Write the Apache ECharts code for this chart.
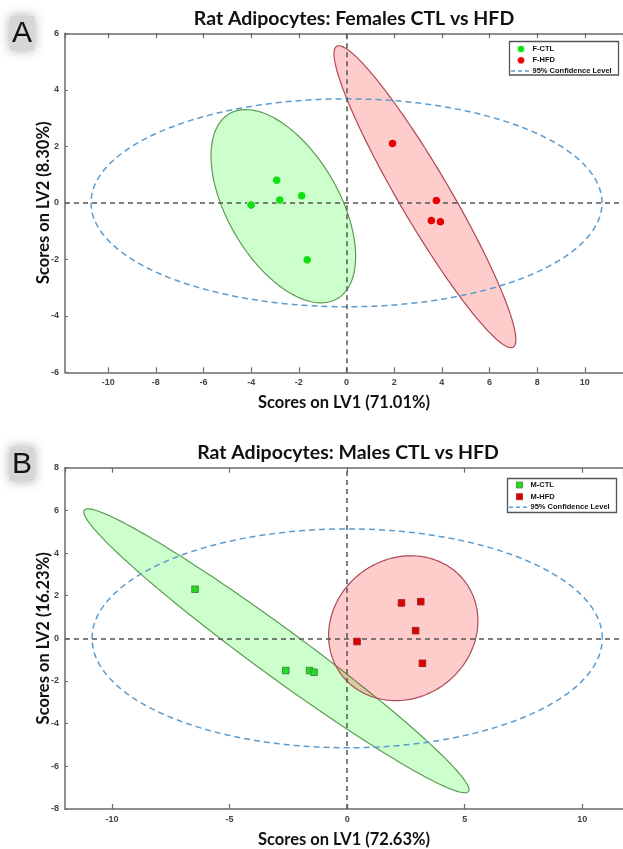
<!DOCTYPE html>
<html>
<head>
<meta charset="utf-8">
<script src="https://cdn.jsdelivr.net/npm/echarts@6/dist/echarts.min.js"></script>
<style>
  html, body { margin: 0; padding: 0; background: #fff; }
  #chart { width: 623px; height: 849px; }
</style>
</head>
<body>
<div id="chart"></div>
<script>
// ---- Panel A: female rats, scores on LV1 / LV2 ----
const femCtl = [[-4.0, -0.08], [-2.8, 0.1], [-2.93, 0.8], [-1.88, 0.25], [-1.65, -2.02]];
const femHfd = [[1.93, 2.1], [3.77, 0.08], [3.56, -0.63], [3.94, -0.67]];
// group ellipses: [centre x, centre y, var x, var y, cov xy]
const femCtlEllipse = [-2.65, -0.12, 9.2, 11.7, -5.4];
const femHfdEllipse = [3.29, 0.215, 14.55, 28.57, -19.3];
// 95% confidence ellipse: [radius x, radius y]
const femConfidence = [10.72, 3.68];
const femRangeX = [-11.81, 11.6];
const femRangeY = [-6, 6];

// ---- Panel B: male rats ----
const maleCtl = [[-6.47, 2.3], [-2.61, -1.51], [-1.6, -1.51], [-1.41, -1.59]];
const maleHfd = [[0.42, -0.15], [2.31, 1.66], [3.13, 1.72], [2.91, 0.36], [3.2, -1.17]];
const maleCtlEllipse = [-3.01, -0.585, 67.1, 44.3, -53.33];
const maleHfdEllipse = [2.385, 0.475, 10.08, 11.53, 1.1];
const maleConfidence = [10.85, 5.13];
const maleRangeX = [-12, 11.73];
const maleRangeY = [-8, 8];

const titles = ['Rat Adipocytes: Females CTL vs HFD', 'Rat Adipocytes: Males CTL vs HFD'];
const xNames = ['Scores on LV1 (71.01%)', 'Scores on LV1 (72.63%)'];
const yNames = ['Scores on LV2 (8.30%)', 'Scores on LV2 (16.23%)'];
const legendA = ['F-CTL', 'F-HFD', '95% Confidence Level'];
const legendB = ['M-CTL', 'M-HFD', '95% Confidence Level'];
const panelLetters = ['A', 'B'];

const AXIS_COLOR = '#6a6a6a';
const GREEN_FILL = 'rgba(0,255,0,0.2)';
const RED_FILL = 'rgba(255,0,0,0.2)';
const GREEN_EDGE = '#5c9c55';
const RED_EDGE = '#ad4a57';
const CONF_COLOR = '#5a9bd0';
const TITLE_FONT = 'Lato, "Open Sans", sans-serif';
const TICK_FONT = '"Liberation Sans", Arial, sans-serif';

const grids = [
  { left: 65, top: 33.3, width: 560, height: 339 },
  { left: 65, top: 467.7, width: 560, height: 341.3 }
];

// outline of an ellipse given its centre and covariance terms, in data units
function ellipsePoints(api, e) {
  const [cx, cy, sxx, syy, sxy] = e;
  const a = Math.sqrt(sxx);
  const c = sxy / a;
  const d = Math.sqrt(syy - c * c);
  const pts = [];
  const N = 180;
  for (let i = 0; i <= N; i++) {
    const t = 2 * Math.PI * i / N;
    pts.push(api.coord([cx + a * Math.cos(t), cy + c * Math.cos(t) + d * Math.sin(t)]));
  }
  return pts;
}

function groupEllipse(xi, yi, e, fill, stroke, z) {
  return {
    type: 'custom', xAxisIndex: xi, yAxisIndex: yi, z: z, silent: true,
    data: [[0, 0]],
    renderItem: (p, api) => ({
      type: 'polygon',
      shape: { points: ellipsePoints(api, e) },
      style: { fill: fill, stroke: stroke, lineWidth: 1.2 }
    })
  };
}

function confidenceEllipse(xi, yi, r) {
  const e = [0, 0, r[0] * r[0], r[1] * r[1], 0];
  return {
    type: 'custom', xAxisIndex: xi, yAxisIndex: yi, z: 3, silent: true,
    data: [[0, 0]],
    renderItem: (p, api) => ({
      type: 'polyline',
      shape: { points: ellipsePoints(api, e) },
      style: { fill: 'none', stroke: CONF_COLOR, lineWidth: 1.5, lineDash: [6, 4] }
    })
  };
}

function zeroLines(xi, yi) {
  return {
    type: 'scatter', xAxisIndex: xi, yAxisIndex: yi, data: [], z: 4, silent: true,
    markLine: {
      silent: true, symbol: 'none', label: { show: false }, animation: false,
      lineStyle: { color: '#555', type: [5, 4], width: 1.5 },
      data: [{ xAxis: 0 }, { yAxis: 0 }]
    }
  };
}

function points(xi, yi, data, symbol, size, color, border) {
  return {
    type: 'scatter', xAxisIndex: xi, yAxisIndex: yi, z: 6, data: data,
    symbol: symbol, symbolSize: size,
    itemStyle: { color: color, borderColor: border, borderWidth: 1, opacity: 1 }
  };
}

function xAxisPair(gi, range, splitNumber, name) {
  const common = {
    gridIndex: gi, type: 'value', min: range[0], max: range[1], splitNumber: splitNumber,
    splitLine: { show: false },
    axisLine: { show: true, onZero: false, lineStyle: { color: AXIS_COLOR, width: 1.5 } },
    axisTick: { show: true, inside: true, length: 5, lineStyle: { color: AXIS_COLOR, width: 1.2 } }
  };
  return [
    Object.assign({}, common, {
      position: 'bottom', name: name, nameLocation: 'middle', nameGap: 22,
      nameTextStyle: { fontFamily: TITLE_FONT, fontWeight: 'bold', fontSize: 16.5, color: '#111' },
      axisLabel: {
        showMinLabel: false, showMaxLabel: false, margin: 6,
        fontFamily: TICK_FONT, fontSize: 9, fontWeight: 'bold', color: '#444'
      }
    }),
    Object.assign({}, common, { position: 'top', axisLabel: { show: false } })
  ];
}

function yAxisOf(gi, range, name) {
  return {
    gridIndex: gi, type: 'value', min: range[0], max: range[1], interval: 2,
    splitLine: { show: false },
    axisLine: { show: true, onZero: false, lineStyle: { color: AXIS_COLOR, width: 1.5 } },
    axisTick: { show: true, inside: true, length: 3, lineStyle: { color: AXIS_COLOR, width: 1 } },
    axisLabel: { margin: 6, fontFamily: TICK_FONT, fontSize: 9, fontWeight: 'bold', color: '#444' },
    name: name, nameLocation: 'middle', nameGap: 13, nameRotate: 90, nameMoveOverlap: false,
    nameTextStyle: { fontFamily: TITLE_FONT, fontWeight: 'bold', fontSize: 16.5, color: '#111' }
  };
}

function legendBox(x, y, labels, symbol, w, h, rows) {
  const [r1, r2, r3] = rows;
  const font = 'bold 7.5px ' + TICK_FONT;
  const mark = (cy, color, border) => symbol === 'circle'
    ? { type: 'circle', shape: { cx: x + 11.5, cy: cy, r: 3.6 }, style: { fill: color, stroke: 'rgba(255,255,255,0.7)', lineWidth: 0.8 } }
    : { type: 'rect', shape: { x: x + 9, y: cy - 3, width: 6, height: 6 }, style: { fill: color, stroke: border, lineWidth: 0.8 } };
  const txt = (cy, s) => ({ type: 'text', style: { x: x + 23, y: cy, text: s, font: font, fill: '#111', verticalAlign: 'middle' } });
  return {
    type: 'group', z: 100,
    children: [
      { type: 'rect', shape: { x: x, y: y, width: w, height: h }, style: { fill: '#fff', stroke: '#555', lineWidth: 1.3 } },
      mark(y + r1, symbol === 'circle' ? '#0fe00f' : '#22dd22', '#3d8f3d'),
      txt(y + r1, labels[0]),
      mark(y + r2, symbol === 'circle' ? '#e80000' : '#dd0000', '#a02020'),
      txt(y + r2, labels[1]),
      { type: 'line', shape: { x1: x + 1.5, y1: y + r3, x2: x + 22, y2: y + r3 }, style: { stroke: CONF_COLOR, lineWidth: 1.4, lineDash: [4, 3] } },
      txt(y + r3, labels[2])
    ]
  };
}

function panelLetter(x, y, letter) {
  return {
    type: 'group', z: 100,
    children: [
      { type: 'rect', shape: { x: x, y: y, width: 24, height: 34 },
        style: { fill: '#d6d6d6', shadowBlur: 12, shadowColor: 'rgba(0,0,0,0.35)' } },
      { type: 'text', style: { x: x + 12, y: y + 18, text: letter, align: 'center', verticalAlign: 'middle',
        font: '30px "Liberation Sans", Arial, sans-serif', fill: '#111' } }
    ]
  };
}

const [xa0, xa1] = xAxisPair(0, femRangeX, 12, xNames[0]);
const [xb0, xb1] = xAxisPair(1, maleRangeX, 5, xNames[1]);

const option = {
  animation: false,
  backgroundColor: '#fff',
  title: [
    { text: titles[0], left: 349, top: 4, textAlign: 'center',
      textStyle: { fontFamily: TITLE_FONT, fontWeight: 'bold', fontSize: 19.5, color: '#111' } },
    { text: titles[1], left: 343, top: 438, textAlign: 'center',
      textStyle: { fontFamily: TITLE_FONT, fontWeight: 'bold', fontSize: 19.5, color: '#111' } }
  ],
  grid: grids,
  xAxis: [xa0, xa1, xb0, xb1],
  yAxis: [yAxisOf(0, femRangeY, yNames[0]), yAxisOf(1, maleRangeY, yNames[1])],
  series: [
    // panel A
    groupEllipse(0, 0, femCtlEllipse, GREEN_FILL, GREEN_EDGE, 1),
    groupEllipse(0, 0, femHfdEllipse, RED_FILL, RED_EDGE, 2),
    confidenceEllipse(0, 0, femConfidence),
    zeroLines(0, 0),
    points(0, 0, femCtl, 'circle', 8.5, '#0fe00f', 'rgba(255,255,255,0.7)'),
    points(0, 0, femHfd, 'circle', 8.5, '#e80000', 'rgba(255,255,255,0.7)'),
    // panel B
    groupEllipse(2, 1, maleCtlEllipse, GREEN_FILL, GREEN_EDGE, 1),
    groupEllipse(2, 1, maleHfdEllipse, RED_FILL, RED_EDGE, 2),
    confidenceEllipse(2, 1, maleConfidence),
    zeroLines(2, 1),
    points(2, 1, maleCtl, 'rect', 6.5, '#22dd22', '#3d8f3d'),
    points(2, 1, maleHfd, 'rect', 6.5, '#dd0000', '#a02020')
  ],
  graphic: [
    legendBox(509.5, 41.5, legendA, 'circle', 109, 33.5, [7.5, 18.8, 29.5]),
    legendBox(507.5, 478.5, legendB, 'rect', 109, 34, [6.5, 18.2, 28.8]),
    panelLetter(10, 16, panelLetters[0]),
    panelLetter(10, 447, panelLetters[1])
  ]
};

const chart = echarts.init(document.getElementById('chart'), null, { renderer: 'canvas' });
chart.setOption(option);
</script>
</body>
</html>
